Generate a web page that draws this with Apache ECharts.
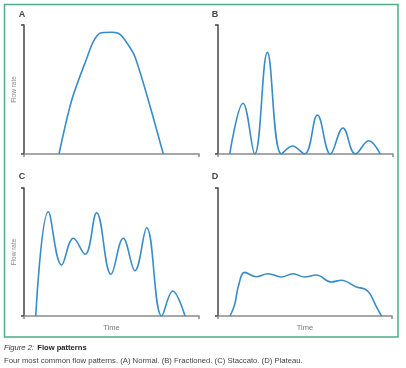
<!DOCTYPE html>
<html><head><meta charset="utf-8">
<script src="https://cdn.jsdelivr.net/npm/echarts@6/dist/echarts.min.js"></script>
<style>html,body{margin:0;padding:0;background:#fff}#c{width:406px;height:368px}</style>
</head><body><div id="c"></div>
<script>
// Panel A: Normal
const timeA = [20, 27.3, 36.2, 39.6, 43.4, 50.3, 54.9, 59.6, 63.4, 71.0, 79.6];
const flowA = [0, 41.9, 75.4, 87.1, 93.6, 94.4, 92.8, 84.5, 75.4, 41.9, 0];
// Panel B: Fractioned
const timeB = [6.7, 14.3, 21.0, 28.2, 36.2, 42.5, 49.5, 56.8, 64.2, 71.4, 78.5, 86.1, 92.7];
const flowB = [0, 39.3, 0, 78.8, 0, 6.2, 0, 30.2, 0, 20.2, 0, 10.3, 0];
// Panel C: Staccato
const timeC = [6.7, 13.9, 21.5, 28.2, 34.9, 41.5, 49.7, 56.7, 63.4, 70.1, 78.7, 85.0, 92.0];
const flowC = [0, 81.5, 39.8, 60.7, 48.2, 80.7, 32.6, 60.7, 35.4, 69.0, 0, 19.5, 0];
// Panel D: Plateau
const timeD = [6.9, 9.5, 11.9, 15.3, 22.0, 28.7, 36.4, 43.1, 49.8, 56.5, 65.1, 70.9, 79.5, 84.3, 87.2, 91.0, 94.0];
const flowD = [0, 8.6, 24.2, 34.1, 30.7, 33.0, 30.5, 33.0, 30.5, 32.0, 26.6, 27.9, 22.7, 21.1, 17.7, 7.3, 0];

const panelLetters = ['A', 'B', 'C', 'D'];
const yName = 'Flow rate';
const xName = 'Time';
const captionTitleItalic = 'Figure 2:';
const captionTitleBold = 'Flow patterns';
const captionText = 'Four most common flow patterns. (A) Normal. (B) Fractioned. (C) Staccato. (D) Plateau.';

const FONT = 'Liberation Sans';
const LINE = '#3a8cc6';
const grids = [
  {left: 24, top: 25, width: 175, height: 129},
  {left: 218, top: 25, width: 175, height: 129},
  {left: 24, top: 188, width: 175, height: 128},
  {left: 218, top: 188, width: 174, height: 128}
];
const letterPos = [[22, 15], [215, 15], [22, 177], [215, 177]];
const series = [[timeA, flowA], [timeB, flowB], [timeC, flowC], [timeD, flowD]];
const smoothing = [0.3, 0.4, 0.4, 0.4];

const chart = echarts.init(document.getElementById('c'), null, {renderer: 'canvas'});
chart.setOption({
  animation: false,
  grid: grids,
  xAxis: grids.map((g, i) => ({
    gridIndex: i, type: 'value', min: 0, max: 100, interval: 100,
    axisLine: {show: true, lineStyle: {color: '#8a8a8a', width: 1.5}},
    axisTick: {show: true, length: 3, lineStyle: {color: '#8a8a8a', width: 1.5}},
    axisLabel: {show: false}, splitLine: {show: false},
    name: i >= 2 ? xName : '', nameLocation: 'middle', nameGap: 8,
    nameTextStyle: {fontFamily: FONT, fontSize: 7.5, color: '#777'}
  })),
  yAxis: grids.map((g, i) => ({
    gridIndex: i, type: 'value', min: 0, max: 100, interval: 100,
    axisLine: {show: true, lineStyle: {color: '#444', width: 1.5}},
    axisTick: {show: true, length: 3, lineStyle: {color: '#444', width: 1.5}},
    axisLabel: {show: false}, splitLine: {show: false},
    name: (i % 2 === 0) ? yName : '', nameLocation: 'middle', nameGap: 6, nameRotate: 90,
    nameTextStyle: {fontFamily: FONT, fontSize: 6.5, color: '#888'}
  })),
  series: series.map((s, i) => ({
    type: 'line', xAxisIndex: i, yAxisIndex: i, smooth: smoothing[i], showSymbol: false,
    lineStyle: {color: LINE, width: 1.6},
    data: s[0].map((t, k) => [t, s[1][k]])
  })),
  graphic: [
    {type: 'rect', shape: {x: 4.5, y: 4.5, width: 393.5, height: 332.5},
     style: {fill: 'none', stroke: '#4aae88', lineWidth: 1.5}, silent: true},
    ...panelLetters.map((l, i) => ({
      type: 'text', x: letterPos[i][0], y: letterPos[i][1],
      style: {text: l, fontFamily: FONT, fontWeight: 'bold', fontSize: 9, fill: '#444', align: 'center', verticalAlign: 'middle'}
    })),
    {type: 'text', x: 4, y: 348,
     style: {text: '{i|' + captionTitleItalic + '} {b|' + captionTitleBold + '}', verticalAlign: 'middle',
       rich: {i: {fontFamily: FONT, fontStyle: 'italic', fontSize: 7.6, fill: '#333'},
              b: {fontFamily: FONT, fontWeight: 'bold', fontSize: 7.6, fill: '#222'}}}},
    {type: 'text', x: 4, y: 361,
     style: {text: captionText, fontFamily: FONT, fontSize: 7.7, fill: '#444', verticalAlign: 'middle'}}
  ]
});
</script></body></html>
